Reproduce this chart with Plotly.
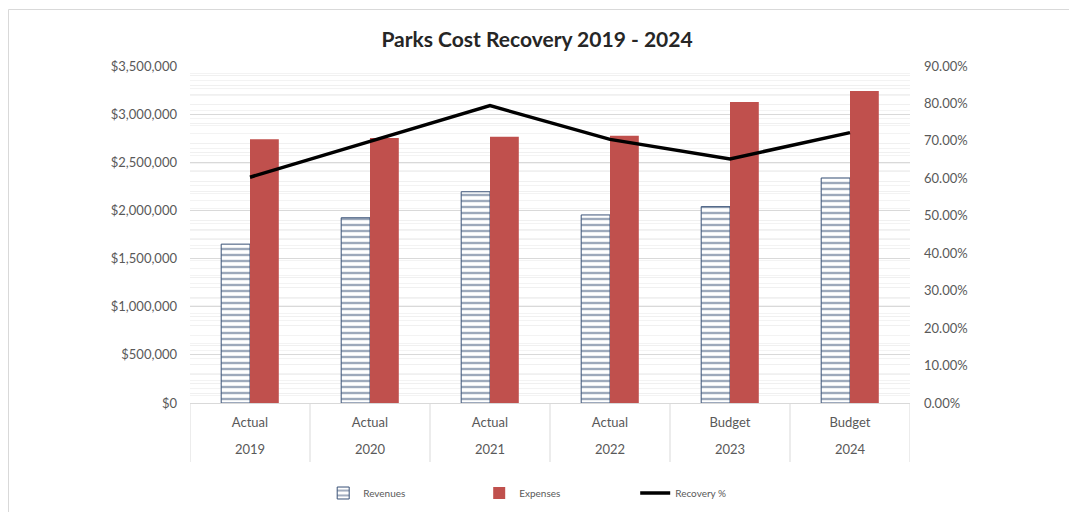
import plotly.graph_objects as go

years = ["2019", "2020", "2021", "2022", "2023", "2024"]
kinds = ["Actual", "Actual", "Actual", "Actual", "Budget", "Budget"]
revenues = [1650000, 1924000, 2194000, 1953000, 2039000, 2337000]
expenses = [2739000, 2752000, 2766000, 2776000, 3126000, 3240000]
recovery = [0.603, 0.699, 0.794, 0.704, 0.652, 0.722]

FONT = "Lato, 'Open Sans', sans-serif"
GRAY = "#595959"
W, H = 1069, 512
L, R, T, B = 190, 159, 66, 109
PW = W - L - R
PH = H - T - B

fig = go.Figure()
fig.add_trace(go.Bar(
    x=years, y=revenues, name="Revenues",
    marker=dict(color="white", line=dict(color="#3B5378", width=1),
                pattern=dict(shape="-", fgcolor="#3B5378", bgcolor="white", size=6, solidity=0.4)),
))
fig.add_trace(go.Bar(
    x=years, y=expenses, name="Expenses",
    marker=dict(color="#C0504D", line=dict(color="#C0504D", width=0)),
))
fig.add_trace(go.Scatter(
    x=years, y=recovery, name="Recovery %", xaxis="x2", yaxis="y2", mode="lines",
    line=dict(color="black", width=3.5),
))

fig.update_layout(
    width=W, height=H,
    margin=dict(l=L, r=R, t=T, b=B, autoexpand=False),
    paper_bgcolor="white", plot_bgcolor="white",
    font=dict(family=FONT, color=GRAY, size=13),
    title=dict(text="<b>Parks Cost Recovery 2019 - 2024</b>", x=537 / W, xref="container", xanchor="center",
               y=1 - 40 / H, yref="container", yanchor="middle",
               font=dict(family=FONT, size=21, color="#262626")),
    barmode="group", bargap=0.52, bargroupgap=0,
    showlegend=True,
    legend=dict(orientation="h", x=0.185, xanchor="left", y=1 - 493 / H, yref="container",
                yanchor="middle",
                font=dict(size=10, color=GRAY), entrywidth=111, entrywidthmode="pixels",
                traceorder="normal"),
    xaxis=dict(type="category", range=[-0.5, 5.5], showline=True, linecolor="#D9D9D9", linewidth=1,
               tickmode="array", tickvals=years, ticktext=kinds, automargin=False,
               ticks="", tickfont=dict(size=13, color=GRAY), showgrid=False, ticklabelstandoff=7),
    xaxis2=dict(type="category", range=[-0.5, 5.5], overlaying="x", side="bottom", anchor="y",
                showline=False, ticks="", tickfont=dict(size=13, color=GRAY), showgrid=False,
                ticklabelstandoff=37, automargin=False),
    yaxis=dict(range=[0, 3500000], dtick=500000, tickprefix="$", tickformat=",.0f",
               showgrid=True, gridcolor="#D9D9D9", gridwidth=1, zeroline=False, automargin=False,
               minor=dict(dtick=100000, showgrid=True, gridcolor="#F0F0F0", gridwidth=1),
               tickfont=dict(size=13, color=GRAY), ticks="", ticklabelstandoff=12),
    yaxis2=dict(range=[0, 0.9], dtick=0.1, tickformat=".2%", overlaying="y", side="right",
                showgrid=False, zeroline=False, automargin=False,
                minor=dict(dtick=0.02, showgrid=True, gridcolor="#F3F3F3", gridwidth=1),
                tickfont=dict(size=13, color=GRAY), ticks="", ticklabelstandoff=13),
)

# category dividers below the axis
for i in range(len(years) + 1):
    fig.add_shape(type="line", xref="x", yref="paper", x0=i - 0.5, x1=i - 0.5,
                  y0=-59 / PH, y1=0, line=dict(color="#D9D9D9", width=1))

# chart outer frame (left and top edges only visible in the crop)
fx0 = (8.5 - L) / PW
fx1 = (W - L) / PW
fy_top = (PH + T - 9.5) / PH
fy_bot = -B / PH
fig.add_shape(type="line", xref="paper", yref="paper", x0=fx0, x1=fx1, y0=fy_top, y1=fy_top,
              line=dict(color="#D9D9D9", width=1), layer="below")
fig.add_shape(type="line", xref="paper", yref="paper", x0=fx0, x1=fx0, y0=fy_bot, y1=fy_top,
              line=dict(color="#D9D9D9", width=1), layer="below")

fig.write_html("out.html", config={"displayModeBar": False},
               post_script="document.body.style.margin='0';document.body.style.overflow='hidden';")
